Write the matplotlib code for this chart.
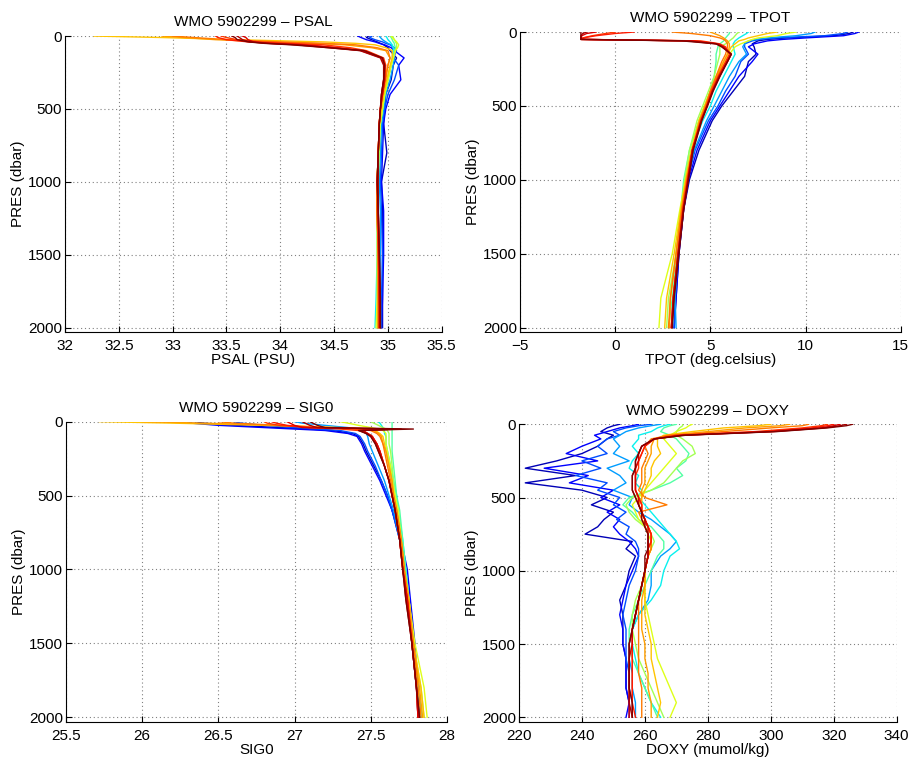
"""Float WMO 5902299 profile overview: PSAL, TPOT, SIG0 and DOXY vs pressure."""
import matplotlib

matplotlib.use("Agg")
import matplotlib.pyplot as plt

plt.rcParams["font.family"] = ["Liberation Sans", "DejaVu Sans"]
plt.rcParams["font.size"] = 11

WMO = "5902299"

# Representative profiles, coloured along jet from first (blue) to last (red) cycle.
cycle_pos = [0.05, 0.12, 0.20, 0.28, 0.36, 0.45, 0.55, 0.62, 0.70, 0.74, 0.78, 0.85, 0.88, 0.92, 0.96, 1.00]

# pressure levels (dbar) for PSAL / TPOT / SIG0
pres = [0, 10, 25, 40, 50, 60, 80, 100, 150, 200, 300, 400, 500, 600, 800, 1000, 1200, 1500, 1800, 2000]

psal = [
    [34.82, 34.80, 34.85, 34.90, 34.93, 34.96, 35.00, 35.02, 35.08, 35.05, 35.03, 34.98, 34.97, 34.96, 34.99, 34.94, 34.95, 34.95, 34.95, 34.95],
    [34.72, 34.75, 34.80, 34.88, 34.92, 34.97, 35.03, 35.06, 35.15, 35.10, 35.12, 35.02, 34.98, 34.96, 34.95, 34.94, 34.96, 34.96, 34.95, 34.94],
    [34.85, 34.83, 34.88, 34.95, 34.98, 35.02, 35.06, 35.08, 35.05, 35.10, 35.06, 35.00, 34.97, 34.95, 34.94, 34.93, 34.94, 34.95, 34.94, 34.94],
    [34.92, 34.93, 34.95, 34.98, 35.00, 35.03, 35.05, 35.06, 35.06, 35.05, 35.02, 34.98, 34.96, 34.94, 34.93, 34.92, 34.93, 34.93, 34.93, 34.93],
    [34.98, 34.99, 35.00, 35.02, 35.03, 35.04, 35.05, 35.05, 35.04, 35.03, 35.00, 34.97, 34.95, 34.93, 34.91, 34.90, 34.90, 34.90, 34.89, 34.88],
    [35.02, 35.03, 35.04, 35.05, 35.06, 35.06, 35.07, 35.06, 35.05, 35.03, 35.00, 34.97, 34.95, 34.93, 34.91, 34.90, 34.90, 34.91, 34.91, 34.91],
    [35.04, 35.05, 35.06, 35.07, 35.08, 35.08, 35.08, 35.07, 35.05, 35.03, 35.00, 34.97, 34.95, 34.93, 34.92, 34.91, 34.91, 34.91, 34.91, 34.90],
    [35.03, 35.04, 35.06, 35.08, 35.09, 35.10, 35.09, 35.07, 35.05, 35.03, 35.00, 34.97, 34.95, 34.93, 34.91, 34.90, 34.90, 34.90, 34.90, 34.89],
    [32.27, 32.90, 33.60, 34.40, 34.70, 34.88, 34.98, 35.04, 35.04, 35.02, 34.99, 34.96, 34.94, 34.92, 34.91, 34.90, 34.90, 34.91, 34.91, 34.91],
    [32.90, 33.10, 33.40, 33.90, 34.30, 34.60, 34.85, 34.98, 35.02, 35.00, 34.97, 34.95, 34.93, 34.92, 34.91, 34.90, 34.90, 34.91, 34.91, 34.91],
    [33.00, 33.20, 33.50, 34.00, 34.40, 34.70, 34.90, 35.00, 35.02, 35.00, 34.98, 34.95, 34.93, 34.92, 34.91, 34.90, 34.90, 34.91, 34.91, 34.91],
    [33.45, 33.50, 33.60, 33.80, 34.10, 34.40, 34.65, 34.80, 34.96, 34.98, 34.97, 34.95, 34.93, 34.92, 34.91, 34.90, 34.90, 34.91, 34.92, 34.92],
    [33.40, 33.42, 33.50, 33.70, 33.95, 34.25, 34.55, 34.78, 34.95, 34.97, 34.96, 34.94, 34.93, 34.92, 34.91, 34.90, 34.91, 34.92, 34.92, 34.93],
    [33.65, 33.68, 33.70, 33.75, 33.90, 34.20, 34.50, 34.75, 34.94, 34.97, 34.97, 34.95, 34.93, 34.92, 34.91, 34.90, 34.91, 34.92, 34.92, 34.92],
    [33.60, 33.62, 33.65, 33.72, 33.88, 34.15, 34.45, 34.74, 34.93, 34.96, 34.96, 34.94, 34.93, 34.92, 34.91, 34.91, 34.91, 34.92, 34.93, 34.93],
    [33.55, 33.58, 33.60, 33.70, 33.85, 34.10, 34.45, 34.78, 34.95, 34.97, 34.96, 34.94, 34.93, 34.92, 34.91, 34.90, 34.91, 34.92, 34.93, 34.93],
]

tpot = [
    [12.5, 12.3, 11.5, 9.0, 8.0, 7.5, 7.2, 7.3, 7.4, 7.0, 6.8, 6.2, 5.6, 5.1, 4.4, 3.9, 3.6, 3.35, 3.2, 3.1],
    [12.8, 12.6, 12.0, 10.0, 8.8, 8.0, 7.3, 7.0, 7.5, 7.2, 6.5, 6.0, 5.5, 5.0, 4.3, 3.85, 3.6, 3.35, 3.2, 3.1],
    [12.2, 12.0, 11.0, 8.5, 7.6, 7.2, 6.8, 6.8, 7.0, 6.6, 6.3, 5.8, 5.4, 4.9, 4.2, 3.8, 3.55, 3.3, 3.15, 3.1],
    [10.5, 10.3, 9.5, 8.0, 7.4, 7.0, 6.8, 6.7, 6.9, 6.5, 6.0, 5.6, 5.2, 4.8, 4.15, 3.75, 3.5, 3.3, 3.15, 3.2],
    [7.0, 6.9, 6.7, 6.5, 6.4, 6.3, 6.2, 6.2, 6.3, 6.1, 5.7, 5.3, 5.0, 4.6, 4.0, 3.7, 3.5, 3.3, 3.1, 3.0],
    [6.0, 6.0, 5.9, 5.8, 5.75, 5.7, 5.5, 5.4, 5.3, 5.3, 5.2, 5.0, 4.7, 4.4, 3.9, 3.6, 3.45, 3.25, 3.0, 2.8],
    [6.5, 6.4, 6.3, 6.2, 6.1, 6.0, 5.8, 5.5, 5.5, 5.4, 5.2, 4.9, 4.6, 4.3, 3.9, 3.65, 3.45, 3.2, 2.8, 2.7],
    [9.5, 9.0, 8.5, 7.5, 7.2, 7.0, 6.6, 6.3, 6.0, 5.8, 5.4, 5.0, 4.7, 4.4, 4.0, 3.7, 3.4, 3.0, 2.4, 2.3],
    [8.5, 8.0, 7.5, 7.0, 6.8, 6.5, 6.3, 6.1, 5.9, 5.7, 5.3, 5.0, 4.7, 4.4, 4.0, 3.7, 3.45, 3.1, 2.7, 2.6],
    [5.0, 5.2, 5.5, 5.7, 5.8, 5.9, 6.0, 6.0, 5.9, 5.7, 5.35, 5.0, 4.75, 4.45, 4.05, 3.75, 3.5, 3.2, 2.9, 2.85],
    [3.0, 4.0, 5.0, 5.5, 5.7, 5.8, 5.9, 5.9, 5.8, 5.6, 5.3, 5.0, 4.75, 4.45, 4.05, 3.75, 3.5, 3.2, 2.9, 2.8],
    [0.0, -0.5, -1.2, -1.7, -1.75, 4.5, 5.5, 5.8, 6.0, 5.8, 5.4, 5.05, 4.8, 4.5, 4.05, 3.8, 3.55, 3.3, 3.05, 2.95],
    [1.0, 0.0, -1.0, -1.7, -1.8, 4.2, 5.4, 5.7, 6.05, 5.85, 5.45, 5.1, 4.82, 4.5, 4.05, 3.8, 3.56, 3.3, 3.05, 2.95],
    [-1.0, -1.5, -1.75, -1.8, -1.8, 4.0, 5.4, 5.7, 6.1, 5.9, 5.45, 5.1, 4.82, 4.52, 4.05, 3.82, 3.58, 3.3, 3.05, 2.95],
    [-1.5, -1.7, -1.8, -1.8, -1.8, 3.8, 5.3, 5.6, 6.1, 5.9, 5.5, 5.12, 4.84, 4.53, 4.08, 3.84, 3.6, 3.33, 3.08, 2.98],
    [-1.8, -1.8, -1.8, -1.8, -1.8, 3.5, 5.3, 5.6, 6.1, 5.9, 5.5, 5.15, 4.85, 4.55, 4.1, 3.85, 3.6, 3.35, 3.1, 3.0],
]

sig0 = [
    [26.35, 26.40, 26.60, 26.90, 27.10, 27.25, 27.38, 27.42, 27.45, 27.47, 27.52, 27.57, 27.61, 27.64, 27.69, 27.73, 27.75, 27.78, 27.80, 27.82],
    [26.30, 26.32, 26.50, 26.80, 27.00, 27.20, 27.35, 27.41, 27.44, 27.46, 27.51, 27.56, 27.60, 27.64, 27.70, 27.74, 27.76, 27.79, 27.81, 27.82],
    [26.60, 26.65, 26.80, 27.00, 27.15, 27.30, 27.40, 27.43, 27.46, 27.48, 27.53, 27.57, 27.61, 27.64, 27.69, 27.72, 27.74, 27.77, 27.80, 27.81],
    [27.00, 27.05, 27.20, 27.35, 27.42, 27.45, 27.47, 27.48, 27.49, 27.51, 27.55, 27.59, 27.62, 27.65, 27.69, 27.72, 27.74, 27.77, 27.80, 27.82],
    [27.55, 27.56, 27.57, 27.58, 27.58, 27.59, 27.59, 27.60, 27.60, 27.61, 27.63, 27.65, 27.67, 27.68, 27.71, 27.73, 27.75, 27.78, 27.81, 27.83],
    [27.64, 27.64, 27.64, 27.64, 27.64, 27.64, 27.64, 27.64, 27.64, 27.64, 27.65, 27.66, 27.67, 27.69, 27.71, 27.73, 27.75, 27.78, 27.81, 27.84],
    [27.50, 27.52, 27.55, 27.58, 27.60, 27.61, 27.62, 27.62, 27.62, 27.63, 27.64, 27.65, 27.66, 27.68, 27.70, 27.72, 27.74, 27.78, 27.83, 27.85],
    [27.30, 27.35, 27.42, 27.50, 27.55, 27.58, 27.60, 27.60, 27.60, 27.61, 27.63, 27.64, 27.66, 27.68, 27.70, 27.72, 27.75, 27.79, 27.85, 27.87],
    [25.72, 26.20, 26.80, 27.30, 27.48, 27.53, 27.56, 27.58, 27.59, 27.60, 27.62, 27.64, 27.65, 27.67, 27.70, 27.72, 27.75, 27.78, 27.83, 27.85],
    [26.00, 26.40, 26.90, 27.25, 27.45, 27.52, 27.55, 27.57, 27.58, 27.60, 27.62, 27.64, 27.65, 27.67, 27.70, 27.72, 27.75, 27.78, 27.82, 27.84],
    [26.50, 26.60, 26.90, 27.20, 27.40, 27.50, 27.54, 27.56, 27.58, 27.59, 27.61, 27.63, 27.65, 27.67, 27.70, 27.72, 27.74, 27.78, 27.81, 27.83],
    [26.80, 26.82, 26.90, 27.10, 27.30, 27.42, 27.48, 27.51, 27.54, 27.56, 27.59, 27.62, 27.64, 27.66, 27.69, 27.71, 27.74, 27.77, 27.80, 27.81],
    [26.85, 26.88, 26.95, 27.10, 27.50, 27.44, 27.48, 27.51, 27.54, 27.56, 27.59, 27.62, 27.64, 27.66, 27.69, 27.71, 27.74, 27.77, 27.80, 27.81],
    [26.95, 26.97, 27.00, 27.05, 27.65, 27.45, 27.48, 27.51, 27.54, 27.56, 27.59, 27.62, 27.64, 27.66, 27.69, 27.71, 27.74, 27.77, 27.80, 27.81],
    [27.05, 27.07, 27.10, 27.15, 27.70, 27.43, 27.47, 27.50, 27.53, 27.55, 27.59, 27.62, 27.64, 27.66, 27.69, 27.71, 27.73, 27.77, 27.80, 27.82],
    [27.10, 27.12, 27.15, 27.20, 27.78, 27.42, 27.47, 27.50, 27.53, 27.55, 27.59, 27.62, 27.64, 27.66, 27.69, 27.71, 27.73, 27.77, 27.80, 27.82],
]

# finer pressure grid for oxygen (noisier profiles)
pres_doxy = [0, 10, 25, 50, 75, 100, 150, 200, 250, 300, 350, 400, 450, 500, 550, 600, 650,
             700, 750, 800, 850, 900, 1000, 1100, 1200, 1300, 1400, 1500, 1600, 1700, 1800, 1900, 2000]

doxy = [
    [252, 250, 248, 246, 250, 248, 245, 240, 232, 222, 238, 222, 240, 248, 243, 250, 247, 245, 241, 256, 254, 257, 255, 254, 252, 253, 253, 253, 254, 254, 254, 255, 255],
    [258, 256, 252, 248, 244, 246, 240, 235, 245, 228, 242, 236, 250, 246, 252, 248, 252, 250, 252, 255, 257, 258, 256, 254, 253, 252, 253, 253, 254, 254, 254, 255, 254],
    [262, 258, 254, 250, 252, 248, 245, 248, 240, 246, 238, 248, 245, 252, 250, 254, 251, 255, 254, 257, 258, 258, 257, 255, 254, 253, 254, 254, 254, 255, 255, 256, 256],
    [265, 262, 258, 254, 252, 250, 252, 250, 255, 248, 252, 254, 250, 256, 255, 258, 262, 265, 268, 270, 268, 265, 262, 262, 261, 258, 256, 255, 255, 256, 256, 257, 257],
    [268, 266, 264, 262, 258, 258, 256, 258, 256, 255, 258, 257, 259, 258, 260, 262, 264, 266, 268, 270, 271, 268, 266, 265, 262, 258, 256, 256, 257, 258, 260, 262, 265],
    [270, 268, 266, 265, 268, 270, 272, 274, 273, 270, 272, 268, 262, 255, 253, 256, 258, 262, 264, 266, 266, 264, 262, 260, 258, 256, 255, 255, 256, 258, 260, 262, 264],
    [272, 272, 271, 270, 270, 272, 275, 276, 272, 270, 268, 266, 262, 256, 254, 255, 257, 260, 262, 263, 262, 261, 260, 259, 257, 256, 256, 257, 258, 260, 262, 264, 266],
    [275, 274, 273, 270, 268, 266, 268, 270, 268, 266, 264, 262, 260, 258, 256, 257, 258, 260, 261, 262, 262, 261, 260, 260, 260, 261, 262, 263, 264, 266, 268, 270, 268],
    [300, 296, 285, 275, 266, 264, 264, 265, 263, 262, 262, 261, 260, 259, 258, 259, 260, 261, 262, 262, 262, 261, 260, 260, 260, 260, 261, 262, 262, 263, 264, 265, 264],
    [306, 303, 292, 280, 267, 263, 262, 262, 261, 260, 260, 260, 259, 259, 259, 259, 260, 261, 262, 262, 262, 261, 260, 260, 259, 259, 259, 260, 260, 261, 261, 262, 262],
    [312, 310, 300, 285, 268, 262, 260, 261, 260, 259, 259, 259, 258, 260, 267, 258, 259, 261, 262, 262, 262, 261, 260, 259, 258, 258, 258, 258, 258, 258, 259, 259, 259],
    [318, 316, 310, 295, 270, 263, 260, 259, 258, 258, 257, 257, 257, 258, 259, 259, 260, 261, 262, 262, 261, 261, 260, 259, 258, 257, 256, 256, 256, 256, 256, 256, 256],
    [320, 318, 313, 298, 271, 263, 260, 259, 258, 257, 257, 257, 257, 258, 259, 259, 260, 261, 262, 262, 261, 261, 260, 259, 258, 257, 256, 256, 256, 256, 256, 256, 257],
    [322, 320, 316, 300, 272, 263, 259, 258, 258, 257, 257, 257, 257, 258, 258, 259, 260, 261, 261, 261, 261, 261, 260, 259, 258, 257, 256, 256, 255, 255, 255, 255, 255],
    [324, 322, 317, 301, 272, 263, 259, 258, 257, 257, 256, 256, 256, 257, 258, 259, 260, 260, 261, 261, 261, 261, 260, 259, 258, 257, 256, 255, 255, 255, 255, 255, 256],
    [326, 324, 318, 302, 273, 263, 259, 258, 257, 257, 256, 256, 256, 257, 258, 259, 259, 260, 261, 261, 261, 260, 260, 259, 258, 257, 256, 255, 255, 255, 255, 256, 256],
]

psal_ticks = [32, 32.5, 33, 33.5, 34, 34.5, 35, 35.5]
tpot_ticks = [-5, 0, 5, 10, 15]
sig0_ticks = [25.5, 26, 26.5, 27, 27.5, 28]
doxy_ticks = [220, 240, 260, 280, 300, 320, 340]
pres_ticks = [0, 500, 1000, 1500, 2000]


def plot_panel(ax, p, profiles, var, xlabel, xticks):
    """One variable: every profile as a jet-coloured line, pressure downwards."""
    cmap = plt.get_cmap("jet")
    for pos, prof in zip(cycle_pos, profiles):
        ax.plot(prof, p, color=cmap(pos), linewidth=1.0)
    ax.set_xlim(xticks[0], xticks[-1])
    ax.set_ylim(2030, 0)
    ax.set_xticks(xticks)
    ax.set_xticklabels([f"{t:g}" if t >= 0 else f"\u2212{-t:g}" for t in xticks])
    ax.set_yticks(pres_ticks)
    ax.grid(True, linestyle=(0, (1, 2.5)), color="#808080", linewidth=0.8)
    for side in ("top", "right"):
        ax.spines[side].set_visible(False)
    ax.tick_params(direction="in", length=4)
    ax.tick_params(axis="x", pad=5)
    ax.tick_params(axis="y", pad=2)
    ax.set_xlabel(xlabel, labelpad=0)
    ax.set_ylabel("PRES (dbar)", labelpad=2)
    ax.set_title(f"WMO {WMO} \u2013 {var}", fontsize=11, pad=7)


fig = plt.figure(figsize=(9.11, 7.64), dpi=100)
ax1 = fig.add_axes([0.0714, 0.5654, 0.4135, 0.3874])
ax2 = fig.add_axes([0.5708, 0.5654, 0.4179, 0.3927])
ax3 = fig.add_axes([0.0724, 0.0554, 0.4182, 0.3927])
ax4 = fig.add_axes([0.5697, 0.0554, 0.4146, 0.3893])

plot_panel(ax1, pres, psal, "PSAL", "PSAL (PSU)", psal_ticks)
plot_panel(ax2, pres, tpot, "TPOT", "TPOT (deg.celsius)", tpot_ticks)
plot_panel(ax3, pres, sig0, "SIG0", "SIG0", sig0_ticks)
plot_panel(ax4, pres_doxy, doxy, "DOXY", "DOXY (mumol/kg)", doxy_ticks)

fig.savefig("out.png", dpi=100)
